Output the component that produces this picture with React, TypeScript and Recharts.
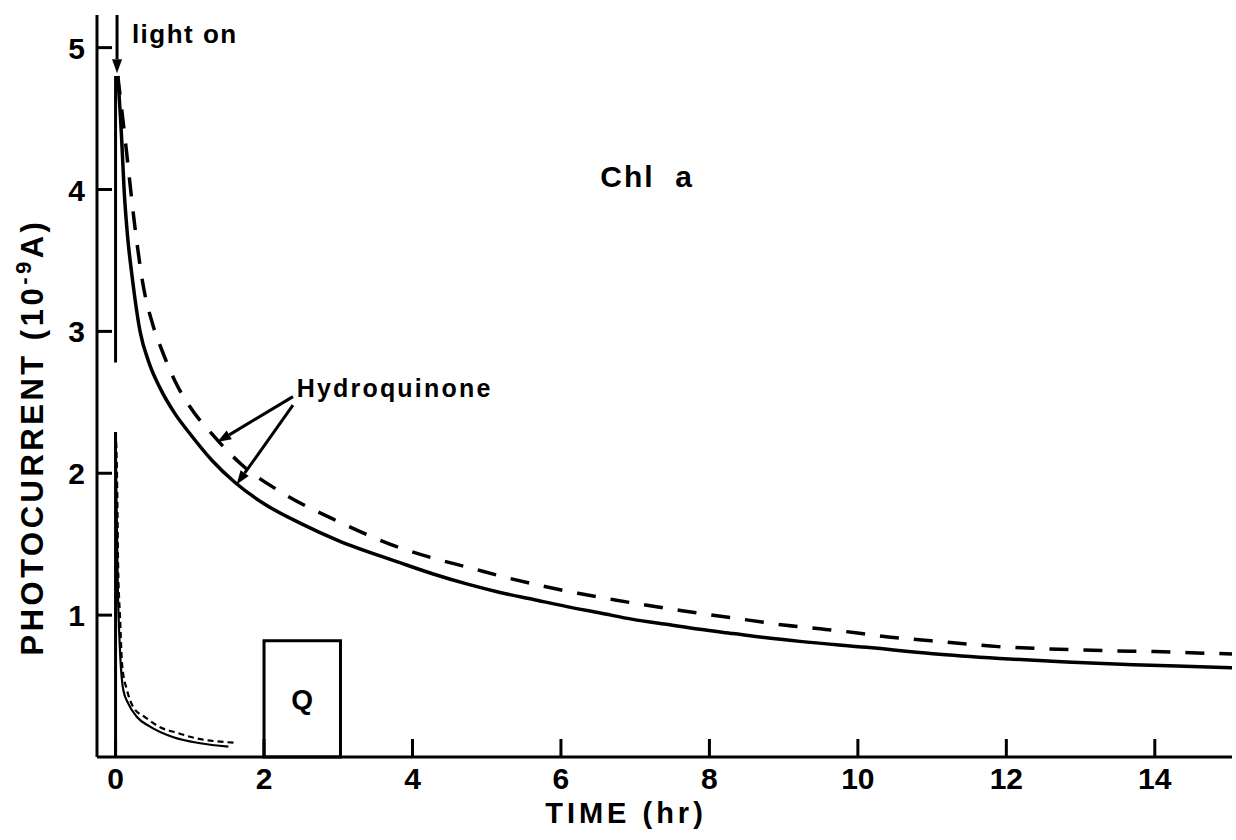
import React from 'react';
import { LineChart, Line, XAxis, YAxis, ReferenceArea, ReferenceLine, ReferenceDot, Label } from 'recharts';

const FONT = '"Liberation Sans", Arial, sans-serif';

// time in hr, photocurrent in 1e-9 A
const solidTimes = [0.03, 0.08, 0.115, 0.16, 0.22, 0.33, 0.45, 0.6, 0.8, 1.0, 1.3, 1.61, 2.0, 2.5, 3.0, 3.83, 4.28, 4.73, 5.18, 5.63, 6.08, 6.53, 6.97, 7.42, 7.87, 8.32, 8.77, 9.22, 10.12, 11.01, 11.91, 12.81, 13.71, 14.61, 15.04];
const solidValues = [4.8, 4.38, 4.0, 3.68, 3.4, 3.0, 2.78, 2.6, 2.42, 2.28, 2.09, 1.935, 1.785, 1.645, 1.525, 1.37, 1.29, 1.22, 1.16, 1.11, 1.06, 1.015, 0.97, 0.935, 0.9, 0.87, 0.84, 0.815, 0.773, 0.728, 0.695, 0.669, 0.65, 0.636, 0.629];

const dashedTimes = [0.03, 0.13, 0.26, 0.37, 0.5, 0.63, 0.8, 1.0, 1.31, 1.7, 2.22, 3.0, 3.83, 4.29, 4.77, 5.27, 5.75, 6.23, 6.71, 7.16, 7.63, 8.1, 8.55, 9.03, 9.52, 9.97, 10.41, 10.9, 11.39, 11.89, 12.37, 12.91, 13.43, 14.0, 14.48, 15.04];
const dashedValues = [4.8, 4.35, 3.74, 3.33, 3.05, 2.86, 2.65, 2.47, 2.27, 2.06, 1.87, 1.66, 1.475, 1.4, 1.334, 1.264, 1.205, 1.154, 1.109, 1.069, 1.031, 0.996, 0.963, 0.928, 0.902, 0.876, 0.846, 0.823, 0.8, 0.778, 0.766, 0.756, 0.748, 0.743, 0.735, 0.726];

// short runs near the origin
const smallSolidTimes = [0.0, 0.03, 0.06, 0.105, 0.17, 0.285, 0.465, 0.78, 1.14, 1.52];
const smallSolidValues = [2.29, 1.2, 0.75, 0.47, 0.378, 0.284, 0.214, 0.139, 0.097, 0.073];

const smallDashedTimes = [0.0, 0.02, 0.035, 0.06, 0.09, 0.155, 0.24, 0.4, 0.6, 0.83, 1.1, 1.37, 1.64];
const smallDashedValues = [2.29, 1.98, 1.34, 0.99, 0.64, 0.47, 0.35, 0.28, 0.21, 0.17, 0.13, 0.11, 0.1];

// light switched on at t = 0
const riseLowTimes = [0, 0];
const riseLowValues = [0, 2.29];
const riseHighTimes = [0, 0];
const riseHighValues = [2.78, 4.8];

const xTicks = [0, 2, 4, 6, 8, 10, 12, 14];
const yTicks = [1, 2, 3, 4, 5];

const toPoints = (ts: number[], vs: number[]) => ts.map((t, i) => ({ t, v: vs[i] }));

const YTick = ({ x, y, payload }: any) => (
  <g>
    <line x1={x + 12} y1={y} x2={x + 27} y2={y} stroke="#000" strokeWidth={3} />
    <text x={x} y={y + 11} textAnchor="end" fontSize={30} fontWeight="bold" fontFamily={FONT} fill="#000">
      {payload.value}
    </text>
  </g>
);

const XTick = ({ x, y, payload }: any) => (
  <g>
    <line x1={x} y1={y - 11} x2={x} y2={y - 29} stroke="#000" strokeWidth={3} />
    <text x={x} y={y + 21} textAnchor="middle" fontSize={30} fontWeight="bold" fontFamily={FONT} fill="#000">
      {payload.value}
    </text>
  </g>
);

const Arrow = (props: any) => {
  const { x1, y1, x2, y2 } = props;
  const ang = Math.atan2(y2 - y1, x2 - x1);
  const len = 14;
  const half = 5;
  const bx = x2 - len * Math.cos(ang);
  const by = y2 - len * Math.sin(ang);
  const px = -Math.sin(ang) * half;
  const py = Math.cos(ang) * half;
  return (
    <g>
      <line x1={x1} y1={y1} x2={bx} y2={by} stroke="#000" strokeWidth={3} />
      <polygon points={`${x2},${y2} ${bx + px},${by + py} ${bx - px},${by - py}`} fill="#000" />
    </g>
  );
};

const textAt = (value: string, size: number, spacing: number) => (p: any) => (
  <text x={p.cx} y={p.cy} fontSize={size} fontWeight="bold" fontFamily={FONT} letterSpacing={spacing} fill="#000" style={{ whiteSpace: 'pre' }}>
    {value}
  </text>
);

export default function App() {
  return (
    <div style={{ position: 'absolute', left: 0, top: 0, width: 1236, height: 840, background: '#fff' }}>
      <LineChart width={1236} height={840} margin={{ top: 15, right: 4, left: 0, bottom: 0 }}>
        <XAxis
          type="number"
          dataKey="t"
          domain={[-0.25, 15.04]}
          allowDataOverflow
          ticks={xTicks}
          height={83}
          tickSize={0}
          tickMargin={11}
          axisLine={{ stroke: '#000', strokeWidth: 3 }}
          tickLine={false}
          tick={(p: any) => <XTick {...p} />}
        >
          <Label
            content={() => (
              <text x={626} y={823} textAnchor="middle" fontSize={29} fontWeight="bold" fontFamily={FONT} letterSpacing={4} fill="#000">
                TIME (hr)
              </text>
            )}
          />
        </XAxis>
        <YAxis
          type="number"
          domain={[0, 5.23]}
          allowDataOverflow
          ticks={yTicks}
          width={97}
          tickSize={0}
          tickMargin={12}
          axisLine={{ stroke: '#000', strokeWidth: 3 }}
          tickLine={false}
          tick={(p: any) => <YTick {...p} />}
        >
          <Label
            content={() => (
              <text x={43} y={437} transform="rotate(-90 43 437)" textAnchor="middle" fontSize={31} fontWeight="bold" fontFamily={FONT} letterSpacing={3.5} fill="#000">
                <tspan>PHOTOCURRENT (10</tspan>
                <tspan dy={-12} fontSize={22}>-9</tspan>
                <tspan dy={12}>A)</tspan>
              </text>
            )}
          />
        </YAxis>

        <ReferenceArea
          x1={2}
          x2={3.03}
          y1={0}
          y2={0.82}
          fill="#fff"
          fillOpacity={0}
          stroke="#000"
          strokeWidth={3}
          ifOverflow="visible"
          label={{ value: 'Q', position: 'center', fontSize: 28, fontWeight: 'bold', fontFamily: FONT, fill: '#000' }}
        />

        <Line data={toPoints(riseLowTimes, riseLowValues)} dataKey="v" type="linear" stroke="#000" strokeWidth={3} dot={false} activeDot={false} isAnimationActive={false} />
        <Line data={toPoints(riseHighTimes, riseHighValues)} dataKey="v" type="linear" stroke="#000" strokeWidth={3} dot={false} activeDot={false} isAnimationActive={false} />
        <Line data={toPoints(smallSolidTimes, smallSolidValues)} dataKey="v" type="monotone" stroke="#000" strokeWidth={2.2} dot={false} activeDot={false} isAnimationActive={false} />
        <Line data={toPoints(smallDashedTimes, smallDashedValues)} dataKey="v" type="monotone" stroke="#000" strokeWidth={2.2} strokeDasharray="6 4" dot={false} activeDot={false} isAnimationActive={false} />
        <Line data={toPoints(solidTimes, solidValues)} dataKey="v" type="monotone" stroke="#000" strokeWidth={3.5} dot={false} activeDot={false} isAnimationActive={false} />
        <Line data={toPoints(dashedTimes, dashedValues)} dataKey="v" type="monotone" stroke="#000" strokeWidth={3.5} strokeDasharray="19 15" dot={false} activeDot={false} isAnimationActive={false} />

        <ReferenceLine segment={[{ x: 0.02, y: 5.23 }, { x: 0.02, y: 4.82 }]} ifOverflow="visible" shape={(p: any) => <Arrow {...p} />} />
        <ReferenceLine segment={[{ x: 2.39, y: 2.54 }, { x: 1.37, y: 2.22 }]} ifOverflow="visible" shape={(p: any) => <Arrow {...p} />} />
        <ReferenceLine segment={[{ x: 2.39, y: 2.48 }, { x: 1.63, y: 1.92 }]} ifOverflow="visible" shape={(p: any) => <Arrow {...p} />} />

        <ReferenceDot x={0.22} y={5.03} r={0} ifOverflow="visible" shape={textAt('light on', 26, 1.5)} />
        <ReferenceDot x={6.53} y={4.02} r={0} ifOverflow="visible" shape={textAt('Chl  a', 30, 2)} />
        <ReferenceDot x={2.44} y={2.54} r={0} ifOverflow="visible" shape={textAt('Hydroquinone', 25, 2.2)} />
      </LineChart>
    </div>
  );
}
